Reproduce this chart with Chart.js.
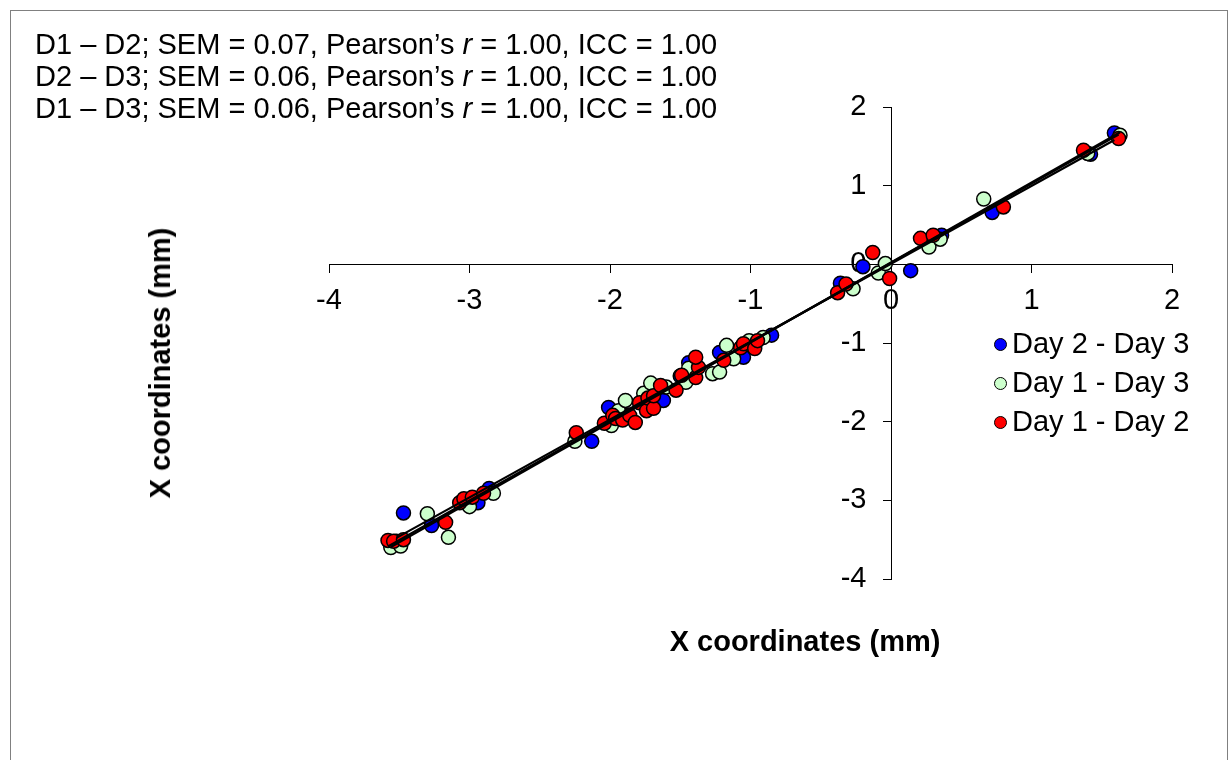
<!DOCTYPE html>
<html>
<head>
<meta charset="utf-8">
<script src="https://cdn.jsdelivr.net/npm/chart.js@4.4.1/dist/chart.umd.min.js"></script>
<style>
  html, body { margin:0; padding:0; background:#fff; }
  body { width:1231px; height:760px; overflow:hidden; position:relative; font-family:"Liberation Sans", Arial, sans-serif; color:#000; }
  #frame { position:absolute; left:10px; top:10px; width:1218px; height:800px; border:1px solid #808080; box-sizing:border-box; }
  canvas { position:absolute; left:0; top:0; }
  .txt { position:absolute; white-space:nowrap; font-size:29px; line-height:32px; }
  .leg { position:absolute; white-space:nowrap; font-size:29px; line-height:32px; left:994px; }
  .dot { display:inline-block; width:13px; height:13px; border-radius:50%; border:1.5px solid #000; box-sizing:border-box; margin-right:5px; vertical-align:2px; }
  .title { position:absolute; white-space:nowrap; font-size:29px; font-weight:bold; line-height:32px; }
</style>
</head>
<body>
<div id="frame"></div>
<canvas id="c" width="1231" height="760"></canvas>

<div class="txt" style="left:35px; top:28px;">D1 – D2; SEM = 0.07, Pearson’s <i>r</i> = 1.00, ICC = 1.00<br>D2 – D3; SEM = 0.06, Pearson’s <i>r</i> = 1.00, ICC = 1.00<br>D1 – D3; SEM = 0.06, Pearson’s <i>r</i> = 1.00, ICC = 1.00</div>

<div class="leg" style="top:327px;"><span class="dot" style="background:#0000FF"></span>Day 2 - Day 3</div>
<div class="leg" style="top:366px;"><span class="dot" style="background:#CCFFCC"></span>Day 1 - Day 3</div>
<div class="leg" style="top:405px;"><span class="dot" style="background:#FF0000"></span>Day 1 - Day 2</div>

<div class="title" style="left:805px; top:641px; transform:translate(-50%,-50%);">X coordinates (mm)</div>
<div class="title" style="left:160px; top:363px; transform:translate(-50%,-50%) rotate(-90deg);">X coordinates (mm)</div>

<script>
// Day 2 - Day 3 (blue)
const blueX = [-3.52, -3.47, -3.27, -2.94, -2.86, -2.13, -2.01, -1.87, -1.73, -1.62, -1.50, -1.44, -1.22, -1.05, -0.85, -0.36, -0.20, 0.14, 0.36, 0.72, 1.42, 1.59];
const blueY = [-3.52, -3.16, -3.32, -3.03, -2.85, -2.25, -1.82, -1.92, -1.66, -1.73, -1.42, -1.25, -1.12, -1.18, -0.90, -0.24, -0.03, -0.08, 0.37, 0.66, 1.40, 1.67];
// Day 1 - Day 3 (light green)
const greenX = [-3.56, -3.49, -3.30, -3.15, -3.00, -2.83, -2.25, -1.99, -1.94, -1.89, -1.76, -1.71, -1.60, -1.46, -1.44, -1.27, -1.22, -1.17, -1.12, -1.01, -0.91, -0.27, -0.09, -0.04, 0.27, 0.35, 0.66, 1.40, 1.63];
const greenY = [-3.60, -3.58, -3.17, -3.47, -3.08, -2.91, -2.25, -2.05, -1.86, -1.73, -1.64, -1.51, -1.56, -1.50, -1.32, -1.39, -1.37, -1.03, -1.20, -0.97, -0.93, -0.31, -0.11, 0.01, 0.22, 0.32, 0.83, 1.41, 1.64];
// Day 1 - Day 2 (red)
const redX = [-3.58, -3.54, -3.47, -3.17, -3.07, -3.04, -2.98, -2.90, -2.24, -2.04, -1.98, -1.96, -1.91, -1.86, -1.82, -1.79, -1.74, -1.73, -1.69, -1.69, -1.64, -1.53, -1.49, -1.39, -1.37, -1.39, -1.19, -1.07, -1.05, -0.97, -0.95, -0.38, -0.32, -0.13, -0.01, 0.21, 0.30, 0.80, 1.37, 1.62];
const redY = [-3.51, -3.52, -3.50, -3.28, -3.03, -2.98, -2.96, -2.91, -2.14, -2.02, -1.92, -1.96, -1.98, -1.92, -2.01, -1.76, -1.86, -1.70, -1.83, -1.67, -1.54, -1.60, -1.41, -1.44, -1.31, -1.18, -1.22, -1.06, -1.01, -1.07, -0.97, -0.36, -0.25, 0.15, -0.18, 0.33, 0.37, 0.73, 1.45, 1.60];

const seriesNames = ['Day 2 - Day 3', 'Day 1 - Day 3', 'Day 1 - Day 2'];
const tickValues = [-4, -3, -2, -1, 0, 1, 2];

function pts(xs, ys) { return xs.map((x, i) => ({ x: x, y: ys[i] })); }
function trend(xs, ys) {
  const n = xs.length;
  const mx = xs.reduce((a, b) => a + b, 0) / n;
  const my = ys.reduce((a, b) => a + b, 0) / n;
  let sxy = 0, sxx = 0;
  for (let i = 0; i < n; i++) { sxy += (xs[i] - mx) * (ys[i] - my); sxx += (xs[i] - mx) ** 2; }
  const b = sxy / sxx, a = my - b * mx;
  const x0 = Math.min(...xs), x1 = Math.max(...xs);
  return [{ x: x0, y: a + b * x0 }, { x: x1, y: a + b * x1 }];
}

const lineDs = (xs, ys) => ({
  type: 'line', data: trend(xs, ys), borderColor: '#000', borderWidth: 2.2,
  pointRadius: 0, fill: false, showLine: true
});
const ptDs = (label, xs, ys, color) => ({
  label: label, data: pts(xs, ys), backgroundColor: color, borderColor: '#000',
  borderWidth: 1.5, pointRadius: 7, pointHoverRadius: 7
});

const tickFont = { family: "'Liberation Sans', Arial, sans-serif", size: 29 };
const setTicks = s => { s.ticks = tickValues.map(v => ({ value: v })); };

new Chart(document.getElementById('c'), {
  type: 'scatter',
  data: {
    datasets: [
      lineDs(redX, redY),
      lineDs(greenX, greenY),
      lineDs(blueX, blueY),
      ptDs(seriesNames[2], redX, redY, '#FF0000'),
      ptDs(seriesNames[1], greenX, greenY, '#CCFFCC'),
      ptDs(seriesNames[0], blueX, blueY, '#0000FF')
    ]
  },
  options: {
    responsive: false,
    animation: false,
    events: [],
    layout: { padding: { left: 329, right: 59, top: 107, bottom: 181 } },
    plugins: { legend: { display: false }, tooltip: { enabled: false } },
    scales: {
      x: {
        type: 'linear', min: tickValues[0], max: tickValues[tickValues.length - 1],
        position: { y: 0 },
        afterBuildTicks: setTicks,
        ticks: { font: tickFont, color: '#000', padding: 11, maxRotation: 0 },
        grid: { drawOnChartArea: false, drawTicks: true, tickLength: 8, color: '#000', lineWidth: 1 },
        border: { display: true, color: '#000', width: 1 }
      },
      y: {
        type: 'linear', min: tickValues[0], max: tickValues[tickValues.length - 1],
        position: { x: 0 },
        afterBuildTicks: setTicks,
        ticks: { display: false },
        grid: { drawOnChartArea: false, drawTicks: true, tickLength: 8, color: '#000', lineWidth: 1 },
        border: { display: true, color: '#000', width: 1 }
      },
      yLabels: {
        type: 'linear', axis: 'y', min: tickValues[0], max: tickValues[tickValues.length - 1],
        position: { x: -0.175 },
        afterBuildTicks: setTicks,
        ticks: { font: tickFont, color: '#000', padding: 0 },
        grid: { display: false, drawTicks: false },
        border: { display: false }
      }
    }
  }
});
</script>
</body>
</html>
